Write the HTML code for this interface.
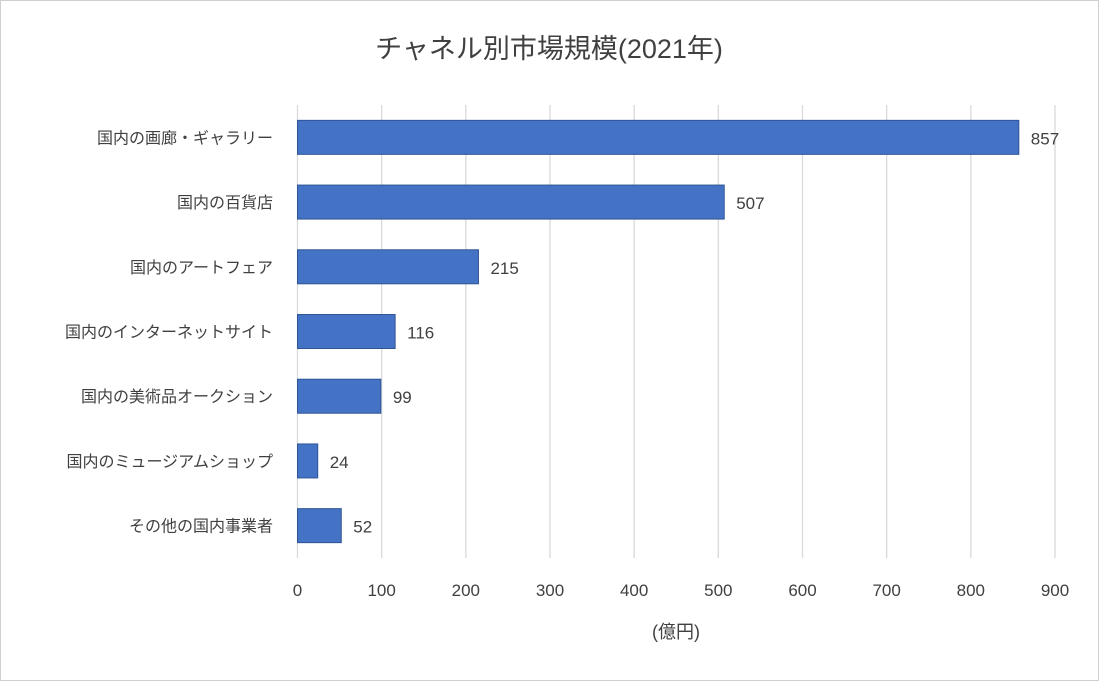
<!DOCTYPE html>
<html><head><meta charset="utf-8"><style>
body{margin:0;background:#fff}
svg text{font-family:"Liberation Sans","Noto Sans CJK JP",sans-serif;fill:#404040}
</style></head><body>
<svg width="1100" height="682" xmlns="http://www.w3.org/2000/svg">
<rect x="0.5" y="0.5" width="1098" height="680" fill="#fff" stroke="#d0d0d0"/>
<text x="549" y="58" font-size="27" text-anchor="middle">チャネル別市場規模(2021年)</text>
<g id="grid"></g><g id="bars"></g>
<text x="676" y="638" font-size="18" text-anchor="middle">(億円)</text>
</svg>
<script>
const categories=["国内の画廊・ギャラリー","国内の百貨店","国内のアートフェア","国内のインターネットサイト","国内の美術品オークション","国内のミュージアムショップ","その他の国内事業者"];
const values=[857,507,215,116,99,24,52];
const ticks=[0,100,200,300,400,500,600,700,800,900];
const NS="http://www.w3.org/2000/svg";
const x0=297.5,x1=1055,plotTop=105,plotBottom=558,band=(plotBottom-plotTop)/categories.length;
const xs=v=>x0+(x1-x0)*v/900;
const g=document.getElementById('grid'),b=document.getElementById('bars');
function mk(tag,a,p){const e=document.createElementNS(NS,tag);for(const k in a)e.setAttribute(k,a[k]);p.appendChild(e);return e;}
ticks.forEach(t=>{
const l=mk('line',{x1:xs(t),x2:xs(t),y1:plotTop,y2:plotBottom,stroke:'#d9d9d9','stroke-width':1.3},g);


const tx=mk('text',{x:xs(t),y:596,'font-size':17,'text-anchor':'middle'},g);tx.textContent=t;


});
categories.forEach((c,i)=>{
const cy=plotTop+band*(i+0.5);
const r=mk('rect',{x:x0,y:cy-17,width:xs(values[i])-x0,height:34,fill:'#4472c4',stroke:'#2f5597','stroke-width':1},b);


const v=mk('text',{x:xs(values[i])+12,y:cy+7,'font-size':17},b);v.textContent=values[i];


const lb=mk('text',{x:273,y:cy+6,'font-size':16,'text-anchor':'end'},b);lb.textContent=c;


});
</script>
</body></html>
